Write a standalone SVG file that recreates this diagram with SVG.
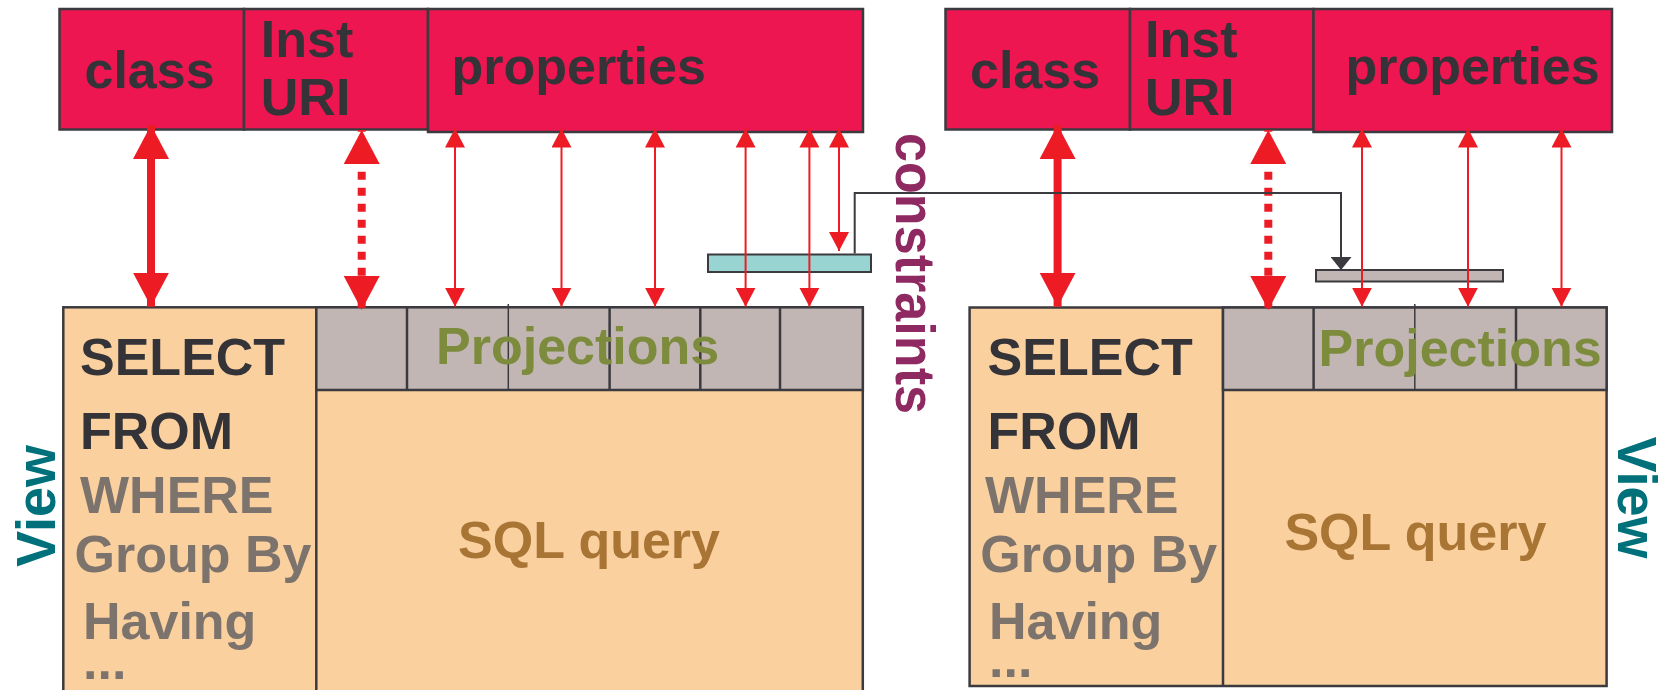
<svg xmlns="http://www.w3.org/2000/svg" width="1663" height="690" viewBox="0 0 1663 690">
  <style>
    .box { stroke: #3b3a3f; stroke-width: 2.5; }
    .hdr { fill: #ee1651; }
    .peach { fill: #fbd09f; }
    .cell { fill: #c1b6b3; }
    .div { stroke: #3b3a3f; stroke-width: 2.5; }
    .tick { stroke: #3b3a3f; stroke-width: 1.5; }
    text { font-family: "Liberation Sans", Arial, sans-serif; font-weight: bold; font-size: 52px; }
    .dark { fill: #343338; }
    .grey { fill: #7c736d; }
    .olive { fill: #7d8b3d; }
    .brown { fill: #a97535; }
    .view { fill: #00707b; font-size: 56px; }
    .cons { fill: #8f2961; font-size: 56px; }
    .big { stroke: #ed1c24; stroke-width: 8; fill: none; }
    .dash { stroke: #ed1c24; stroke-width: 8; fill: none; stroke-dasharray: 8 8; stroke-dashoffset: 6.3; }
    .thin { stroke: #ed1c24; stroke-width: 2; fill: none; }
    .link { stroke: #3b3a3f; stroke-width: 2; fill: none; }
  </style>
  <defs>
    <marker id="head-big" viewBox="0 0 34 36" refX="34" refY="18" markerWidth="34" markerHeight="36" markerUnits="userSpaceOnUse" orient="auto-start-reverse">
      <path d="M0,0 L34,18 L0,36 Z" fill="#ed1c24"/>
    </marker>
    <marker id="head-small" viewBox="0 0 19 20" refX="19" refY="10" markerWidth="19" markerHeight="20" markerUnits="userSpaceOnUse" orient="auto-start-reverse">
      <path d="M0,0 L19,10 L0,20 Z" fill="#ed1c24"/>
    </marker>
    <marker id="head-dark" viewBox="0 0 13 21" refX="13" refY="10.5" markerWidth="13" markerHeight="21" markerUnits="userSpaceOnUse" orient="auto">
      <path d="M0,0 L13,10.5 L0,21 Z" fill="#3b3a3f"/>
    </marker>
  </defs>

  <!-- left ontology header -->
  <g id="hdr-left">
    <rect class="box hdr" x="59.5" y="9" width="184.5" height="120.5"/>
    <rect class="box hdr" x="244" y="9" width="184" height="120.5"/>
    <rect class="box hdr" x="428" y="9" width="435" height="123"/>
    <text class="dark" x="84.5" y="87.5">class</text>
    <text class="dark" x="260.8" y="57.3">Inst</text>
    <text class="dark" x="260.8" y="115">URI</text>
    <text class="dark" x="451.6" y="84">properties</text>
  </g>

  <!-- right ontology header -->
  <g id="hdr-right">
    <rect class="box hdr" x="945.5" y="9" width="184.5" height="120.5"/>
    <rect class="box hdr" x="1130" y="9" width="183.5" height="120.5"/>
    <rect class="box hdr" x="1313.5" y="9" width="298.5" height="123"/>
    <text class="dark" x="970" y="87.5">class</text>
    <text class="dark" x="1145" y="57.3">Inst</text>
    <text class="dark" x="1145" y="115">URI</text>
    <text class="dark" x="1345.4" y="84">properties</text>
  </g>

  <!-- left view / SQL query -->
  <g id="view-left">
    <rect class="box peach" x="63.3" y="307.3" width="799.5" height="390"/>
    <line class="div" x1="316.3" y1="307.3" x2="316.3" y2="692"/>
    <rect class="box cell" x="316.3" y="307.3" width="546.5" height="82.7"/>
    <line class="div" x1="407" y1="307.3" x2="407" y2="390"/>
    <line class="div" x1="609.6" y1="307.3" x2="609.6" y2="390"/>
    <line class="div" x1="700.3" y1="307.3" x2="700.3" y2="390"/>
    <line class="div" x1="780" y1="307.3" x2="780" y2="390"/>
    <line class="tick" x1="508.3" y1="304" x2="508.3" y2="390"/>
    <text class="olive" x="436" y="364">Projections</text>
    <text class="dark" x="80" y="375">SELECT</text>
    <text class="dark" x="80" y="449">FROM</text>
    <text class="grey" x="80" y="512.5">WHERE</text>
    <text class="grey" x="74.6" y="572">Group By</text>
    <text class="grey" x="83" y="638.5">Having</text>
    <text class="grey" x="83" y="679">...</text>
    <text class="brown" x="458" y="558">SQL query</text>
    <text class="view" transform="translate(54.5,506) rotate(-90)" text-anchor="middle" textLength="122" lengthAdjust="spacingAndGlyphs">View</text>
  </g>

  <!-- right view / SQL query -->
  <g id="view-right">
    <rect class="box peach" x="969.6" y="307.5" width="637" height="378.5"/>
    <line class="div" x1="1223" y1="307.5" x2="1223" y2="686"/>
    <rect class="box cell" x="1223" y="307.5" width="383.6" height="82.5"/>
    <line class="div" x1="1313.6" y1="307.5" x2="1313.6" y2="390"/>
    <line class="div" x1="1516" y1="307.5" x2="1516" y2="390"/>
    <line class="tick" x1="1414.8" y1="304" x2="1414.8" y2="390"/>
    <text class="olive" x="1318.5" y="366">Projections</text>
    <text class="dark" x="987.6" y="375">SELECT</text>
    <text class="dark" x="987.6" y="449">FROM</text>
    <text class="grey" x="985" y="512.5">WHERE</text>
    <text class="grey" x="980.3" y="572">Group By</text>
    <text class="grey" x="989" y="638.5">Having</text>
    <text class="grey" x="989" y="677">...</text>
    <text class="brown" x="1284.4" y="550">SQL query</text>
    <text class="view" transform="translate(1618,497.5) rotate(90)" text-anchor="middle" textLength="122" lengthAdjust="spacingAndGlyphs">View</text>
  </g>

  <!-- constraint bars -->
  <g id="constraint-left">
    <rect x="708" y="254.5" width="163" height="17.5" fill="#98d4d1" stroke="#3b3a3f" stroke-width="2"/>
  </g>
  <g id="constraint-right">
    <rect x="1316" y="270" width="187" height="11.5" fill="#c1b6b3" stroke="#3b3a3f" stroke-width="2"/>
  </g>
  <g id="constraints-label">
    <text class="cons" transform="translate(896,273.5) rotate(90)" text-anchor="middle" textLength="281" lengthAdjust="spacingAndGlyphs">constraints</text>
  </g>

  <!-- connectors -->
  <g id="connectors">
    <!-- class mappings -->
    <line class="big" x1="151" y1="125" x2="151" y2="306.7" marker-start="url(#head-big)" marker-end="url(#head-big)"/>
    <line class="big" x1="1057.6" y1="125" x2="1057.6" y2="306.7" marker-start="url(#head-big)" marker-end="url(#head-big)"/>
    <!-- instance URI mappings -->
    <line class="dash" x1="361.7" y1="130" x2="361.7" y2="310" marker-start="url(#head-big)" marker-end="url(#head-big)"/>
    <line class="dash" x1="1268.3" y1="130" x2="1268.3" y2="310" marker-start="url(#head-big)" marker-end="url(#head-big)"/>
    <!-- property mappings -->
    <line class="thin" x1="455" y1="128.5" x2="455" y2="306.7" marker-start="url(#head-small)" marker-end="url(#head-small)"/>
    <line class="thin" x1="561.5" y1="128.5" x2="561.5" y2="306.7" marker-start="url(#head-small)" marker-end="url(#head-small)"/>
    <line class="thin" x1="655" y1="128.5" x2="655" y2="306.7" marker-start="url(#head-small)" marker-end="url(#head-small)"/>
    <line class="thin" x1="745.6" y1="128.5" x2="745.6" y2="306.7" marker-start="url(#head-small)" marker-end="url(#head-small)"/>
    <line class="thin" x1="809.4" y1="128.5" x2="809.4" y2="306.7" marker-start="url(#head-small)" marker-end="url(#head-small)"/>
    <line class="thin" x1="839" y1="128.5" x2="839" y2="251" marker-start="url(#head-small)" marker-end="url(#head-small)"/>
    <line class="thin" x1="1362" y1="128.5" x2="1362" y2="306.7" marker-start="url(#head-small)" marker-end="url(#head-small)"/>
    <line class="thin" x1="1468" y1="128.5" x2="1468" y2="306.7" marker-start="url(#head-small)" marker-end="url(#head-small)"/>
    <line class="thin" x1="1561.5" y1="128.5" x2="1561.5" y2="306.7" marker-start="url(#head-small)" marker-end="url(#head-small)"/>
    <!-- constraint link -->
    <polyline class="link" points="854.7,253.5 854.7,193 1341,193 1341,270" marker-end="url(#head-dark)"/>
  </g>
</svg>
